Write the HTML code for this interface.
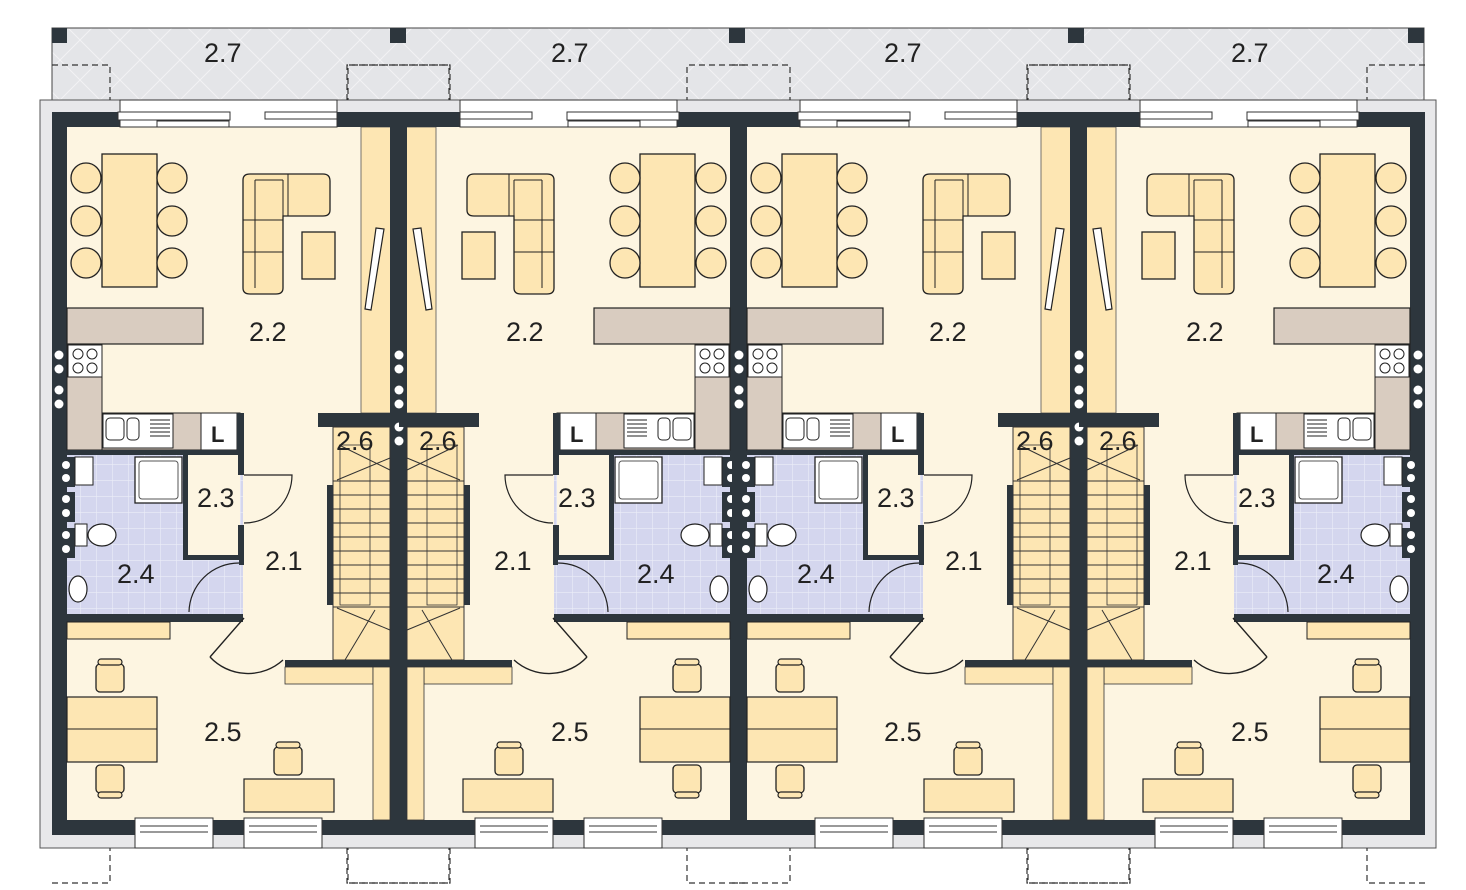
<!DOCTYPE html>
<html><head><meta charset="utf-8"><style>
html,body{margin:0;padding:0;background:#fff;width:1466px;height:890px;overflow:hidden}
svg{display:block}
text{font-family:"Liberation Sans",sans-serif;font-size:27px;fill:#222}
</style></head><body>
<svg width="1466" height="890" viewBox="0 0 1466 890" xmlns="http://www.w3.org/2000/svg">
<defs>
<pattern id="diam" width="40" height="40" patternUnits="userSpaceOnUse">
<rect width="40" height="40" fill="#e4e5e8"/>
<path d="M0 0L40 40M40 0L0 40" stroke="#f2f2f4" stroke-width="1"/>
</pattern>
<pattern id="tile" width="16" height="16" patternUnits="userSpaceOnUse">
<rect width="16" height="16" fill="#d4d6ee"/>
<path d="M0 0H16M0 0V16" stroke="#eceef8" stroke-width="1.2"/>
</pattern>
<g id="chair">
<circle r="15" fill="#fde6b3" stroke="#222" stroke-width="1.3"/>
</g>
<g id="ochair">
<rect x="-14" y="-14" width="28" height="28" rx="4" fill="#fde6b3" stroke="#222" stroke-width="1.3"/>
<rect x="-12" y="-19" width="24" height="6" rx="3" fill="#fde6b3" stroke="#222" stroke-width="1.2"/>
</g>
<g id="unit">
<rect x="67" y="127" width="323" height="693" fill="#fdf5e1"/>
<rect x="361" y="127" width="30" height="286" fill="#fde6b3" stroke="#555" stroke-width="0.8"/>
<polygon points="376,228 384,229 371,310 365,309" fill="#fff" stroke="#222" stroke-width="1.2"/>
<rect x="52" y="112" width="346" height="15" fill="#2d363d"/>
<rect x="52" y="112" width="15" height="723" fill="#2d363d"/>
<rect x="52" y="820" width="346" height="15" fill="#2d363d"/>
<rect x="390" y="112" width="16" height="723" fill="#2d363d"/>
<rect x="120" y="100" width="217" height="27" fill="#fff" stroke="#333" stroke-width="1"/>
<rect x="118" y="112" width="112" height="8" fill="#fff" stroke="#333" stroke-width="1"/>
<rect x="157" y="121" width="72" height="6" fill="#fff" stroke="#333" stroke-width="1"/>
<rect x="265" y="112" width="72" height="7" fill="#fff" stroke="#333" stroke-width="1"/>
<g fill="#fff"><circle cx="59" cy="355" r="4.5"/><circle cx="59" cy="369" r="4.5"/><circle cx="59" cy="390" r="4.5"/><circle cx="59" cy="404" r="4.5"/>
<circle cx="398" cy="355" r="4.5"/><circle cx="398" cy="369" r="4.5"/><circle cx="398" cy="390" r="4.5"/><circle cx="398" cy="404" r="4.5"/><circle cx="398" cy="427" r="4.5"/><circle cx="398" cy="441" r="4.5"/></g>
<rect x="102" y="154" width="55" height="133" fill="#fde6b3" stroke="#222" stroke-width="1.3"/>
<use href="#chair" x="86" y="178"/><use href="#chair" x="86" y="221"/><use href="#chair" x="86" y="263"/>
<use href="#chair" x="172" y="178"/><use href="#chair" x="172" y="221"/><use href="#chair" x="172" y="263"/>
<path d="M243 180 Q243 174 250 174 H323 Q330 174 330 181 V210 Q330 216 323 216 H283 V288 Q283 294 276 294 H250 Q243 294 243 288 Z" fill="#fde6b3" stroke="#222" stroke-width="1.3"/>
<path d="M255 180 V288 M283 180 V216 M288 174 V216 M243 220 H283 M243 252 H283 M255 180 H283" stroke="#222" stroke-width="1" fill="none"/>
<rect x="302" y="232" width="33" height="47" fill="#fde6b3" stroke="#222" stroke-width="1.3"/>
<rect x="67" y="308" width="136" height="36" fill="#d9ccc0" stroke="#222" stroke-width="1.2"/>
<rect x="67" y="344" width="35" height="106" fill="#d9ccc0" stroke="#222" stroke-width="1"/>
<rect x="68" y="345" width="34" height="32" fill="#fff" stroke="#222" stroke-width="1"/>
<g fill="none" stroke="#222"><circle cx="78" cy="354" r="5"/><circle cx="92" cy="354" r="5"/><circle cx="78" cy="368" r="5"/><circle cx="92" cy="368" r="5"/></g>
<rect x="102" y="413" width="138" height="37" fill="#d9ccc0" stroke="#222" stroke-width="1"/>
<rect x="103" y="414" width="70" height="34" fill="#fff" stroke="#222" stroke-width="1"/>
<rect x="106" y="418" width="18" height="22" rx="4" fill="#fff" stroke="#222"/><rect x="127" y="418" width="12" height="22" rx="4" fill="#fff" stroke="#222"/>
<path d="M150 420H170M150 424H170M150 428H170M150 432H170M150 436H170" stroke="#222"/>
<rect x="201" y="413" width="36" height="37" fill="#fff" stroke="#222" stroke-width="1"/>
<rect x="237" y="413" width="7" height="42" fill="#2d363d"/>
<rect x="318" y="413" width="80" height="14" fill="#2d363d"/>
<rect x="67" y="455" width="176" height="159" fill="url(#tile)"/>
<rect x="188" y="455" width="52" height="100" fill="#fdf5e1"/>
<rect x="67" y="450" width="177" height="5" fill="#2d363d"/>
<rect x="183" y="455" width="5" height="105" fill="#2d363d"/>
<rect x="183" y="555" width="60" height="5" fill="#2d363d"/>
<rect x="238" y="455" width="6" height="20" fill="#2d363d"/>
<rect x="238" y="525" width="6" height="35" fill="#2d363d"/>
<path d="M244 475 H292 A48 48 0 0 1 244 523" fill="none" stroke="#222" stroke-width="1.2"/>
<rect x="135" y="457" width="47" height="46" fill="#fff" stroke="#222" stroke-width="1.3"/>
<rect x="139" y="461" width="39" height="38" rx="3" fill="#fff" stroke="#555"/>
<rect x="57" y="457" width="18" height="30" fill="#2d363d"/><rect x="57" y="492" width="18" height="30" fill="#2d363d"/><rect x="57" y="528" width="18" height="30" fill="#2d363d"/>
<g fill="#fff"><circle cx="66" cy="465" r="4"/><circle cx="66" cy="478" r="4"/><circle cx="66" cy="499" r="4"/><circle cx="66" cy="513" r="4"/><circle cx="66" cy="535" r="4"/><circle cx="66" cy="549" r="4"/></g>
<rect x="75" y="457" width="18" height="28" fill="#fff" stroke="#222"/>
<ellipse cx="102" cy="535" rx="14" ry="11" fill="#fff" stroke="#222" stroke-width="1.2"/>
<rect x="75" y="524" width="12" height="22" fill="#fff" stroke="#222"/>
<ellipse cx="78" cy="589" rx="9" ry="13" fill="#fff" stroke="#222" stroke-width="1.2"/>
<path d="M189 612 A50 50 0 0 1 239 563" fill="none" stroke="#222" stroke-width="1.2"/>
<rect x="239" y="560" width="5" height="5" fill="#2d363d"/>
<rect x="67" y="614" width="176" height="8" fill="#2d363d"/>
<rect x="67" y="622" width="103" height="17" fill="#fde6b3" stroke="#222" stroke-width="1"/>
<path d="M244 618 L210 657 M210 657 A52 52 0 0 0 283 660" fill="none" stroke="#222" stroke-width="1.4"/>
<rect x="333" y="427" width="57" height="233" fill="#fde6b3" stroke="#333" stroke-width="1"/>
<path d="M333 481H390M333 495H390M333 509H390M333 523H390M333 537H390M333 551H390M333 565H390M333 579H390M333 593H390M333 607H390" stroke="#333" stroke-width="1"/>
<path d="M337 480 L390 458 M339 445 L390 470 M337 608 L390 630 M345 660 L375 610" stroke="#333" stroke-width="1" fill="none"/>
<rect x="340" y="445" width="30" height="160" fill="none" stroke="#333" stroke-width="0.8"/>
<rect x="327" y="485" width="6" height="120" fill="#2d363d"/>
<rect x="285" y="660" width="113" height="7" fill="#2d363d"/>
<rect x="318" y="667" width="15" height="8" fill="#2d363d"/>
<rect x="285" y="667" width="88" height="17" fill="#fde6b3" stroke="#333" stroke-width="0.8"/>
<rect x="373" y="667" width="17" height="153" fill="#fde6b3" stroke="#333" stroke-width="0.8"/>
<rect x="67" y="697" width="90" height="65" fill="#fde6b3" stroke="#222" stroke-width="1.2"/>
<path d="M67 729H157" stroke="#222"/>
<use href="#ochair" x="110" y="678"/>
<use href="#ochair" x="110" y="779" transform="rotate(180 110 779)"/>
<rect x="244" y="779" width="90" height="33" fill="#fde6b3" stroke="#222" stroke-width="1.2"/>
<use href="#ochair" x="288" y="761"/>
<rect x="135" y="818" width="78" height="30" fill="#fff" stroke="#333" stroke-width="1"/>
<rect x="244" y="818" width="78" height="30" fill="#fff" stroke="#333" stroke-width="1"/>
<path d="M140 826H208M140 832H208M249 826H317M249 832H317" stroke="#333"/>
<path d="M52 65H110V100M347 100V65H449V100M52 883H110V848M347 848V883H449V848" fill="none" stroke="#333" stroke-width="1.2" stroke-dasharray="6 4"/>
</g>
</defs>
<rect x="52" y="28" width="1372" height="72" fill="url(#diam)" stroke="#444" stroke-width="1"/>
<rect x="40" y="100" width="1396" height="748" fill="#e8e8ea" stroke="#555" stroke-width="1"/>
<use href="#unit"/>
<use href="#unit" transform="translate(797,0) scale(-1,1)"/>
<use href="#unit" transform="translate(680,0)"/>
<use href="#unit" transform="translate(1477,0) scale(-1,1)"/>
<g fill="#2d363d"><rect x="52" y="28" width="15" height="15"/><rect x="390" y="28" width="16" height="15"/><rect x="729" y="28" width="16" height="15"/><rect x="1068" y="28" width="16" height="15"/><rect x="1408" y="28" width="16" height="15"/></g>
<g style="font-size:22px;font-weight:bold"><text x="211" y="442" style="font-size:22px;font-weight:bold">L</text><text x="570" y="442" style="font-size:22px;font-weight:bold">L</text><text x="891" y="442" style="font-size:22px;font-weight:bold">L</text><text x="1250" y="442" style="font-size:22px;font-weight:bold">L</text></g>
<g>
<text x="204" y="62">2.7</text><text x="551" y="62">2.7</text><text x="884" y="62">2.7</text><text x="1231" y="62">2.7</text>
<text x="249" y="341">2.2</text><text x="506" y="341">2.2</text><text x="929" y="341">2.2</text><text x="1186" y="341">2.2</text>
<text x="197" y="507">2.3</text><text x="558" y="507">2.3</text><text x="877" y="507">2.3</text><text x="1238" y="507">2.3</text>
<text x="265" y="570">2.1</text><text x="494" y="570">2.1</text><text x="945" y="570">2.1</text><text x="1174" y="570">2.1</text>
<text x="117" y="583">2.4</text><text x="637" y="583">2.4</text><text x="797" y="583">2.4</text><text x="1317" y="583">2.4</text>
<text x="204" y="741">2.5</text><text x="551" y="741">2.5</text><text x="884" y="741">2.5</text><text x="1231" y="741">2.5</text>
<text x="336" y="450">2.6</text><text x="419" y="450">2.6</text><text x="1016" y="450">2.6</text><text x="1099" y="450">2.6</text>
</g>
</svg>
</body></html>
